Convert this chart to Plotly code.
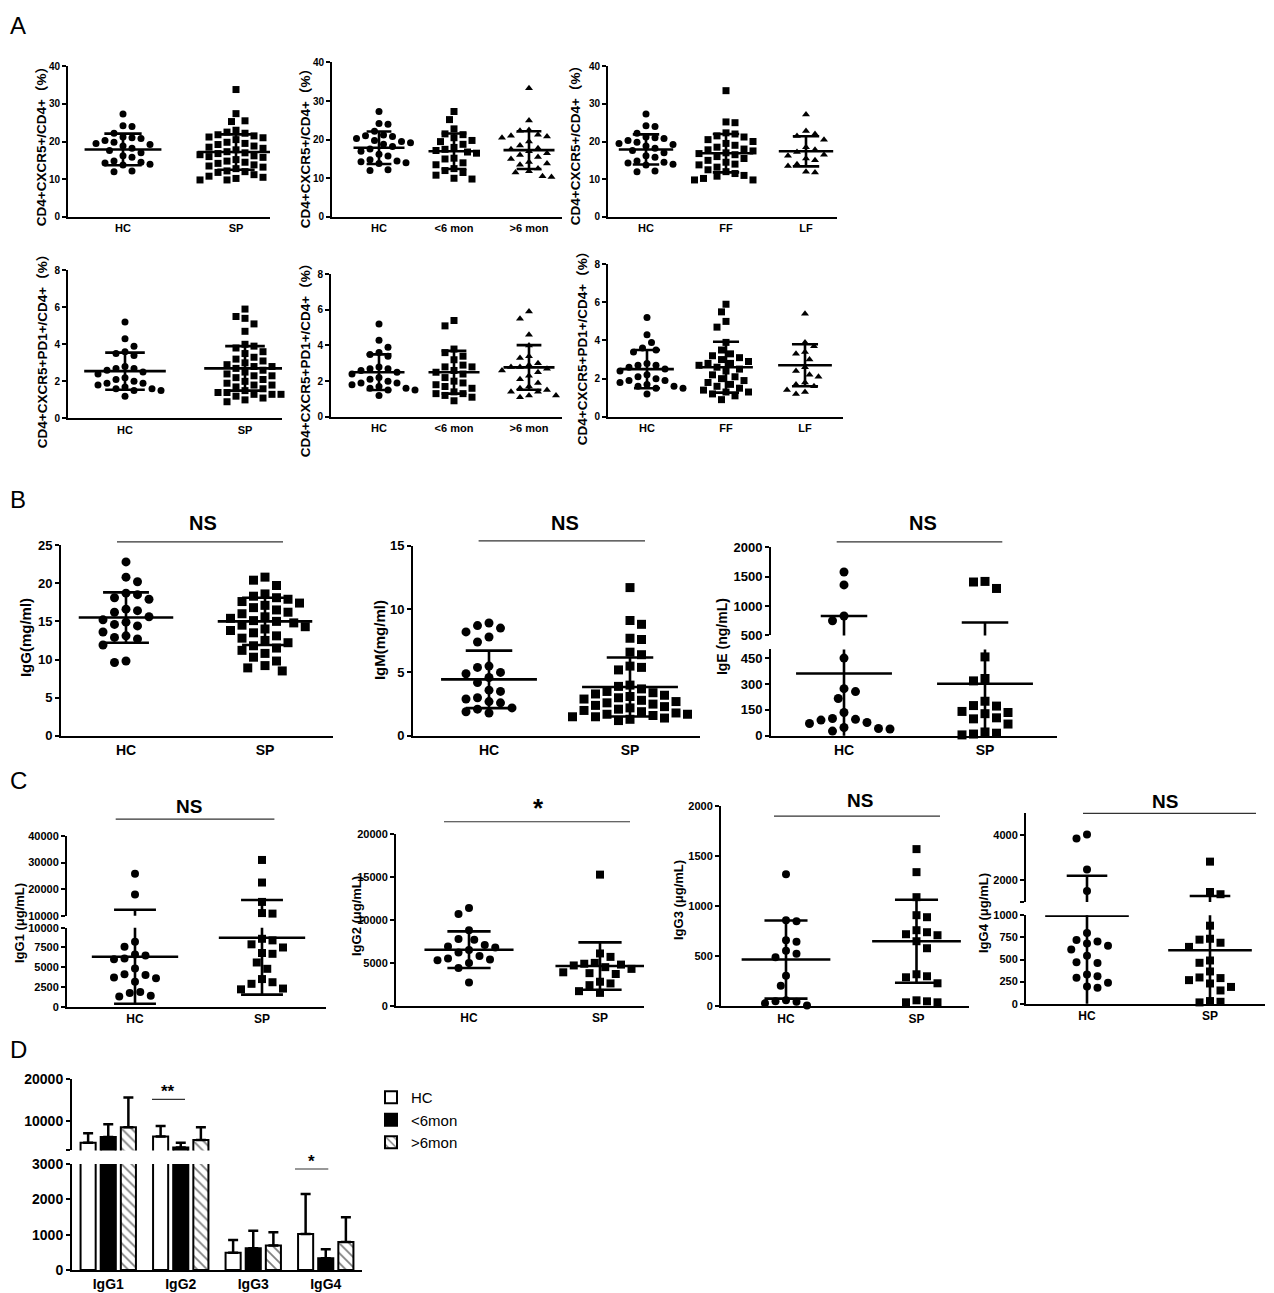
import numpy as np
import plotly.graph_objects as go

# figure size and the measured page->picture mapping (8px body margin, slight vertical squeeze)
W, H = 1258, 1293
OFF_X, OFF_Y, SQ_Y = 8, 16, 0.9878
SANS = "Liberation Sans, Arial, Helvetica, sans-serif"
NARROW = "Liberation Sans Narrow, Liberation Sans, Arial, sans-serif"
CJK = "Liberation Sans, Noto Sans CJK SC, sans-serif"

# ---------------- DATA ----------------
cats_sp = ["HC", "SP"]
cats_mon = ["HC", "<6 mon", ">6 mon"]
cats_f = ["HC", "FF", "LF"]

# A: CD4+CXCR5+/CD4+ (%)
cxcr5_hc = [27.3, 24.2, 24.0, 22.2, 21.2, 21.0, 20.8, 20.3, 19.8, 19.5, 19.2, 18.8, 18.2, 17.6, 17.0, 16.2,
            15.8, 14.8, 14.5, 14.3, 14.0, 13.8, 12.2, 12.0]
cxcr5_sp = [33.8, 27.4, 25.5, 25.3, 23.0, 22.5, 22.2, 21.8, 21.5, 21.2, 21.0, 20.5, 20.2, 19.8, 19.5, 19.2,
            18.8, 18.5, 18.2, 17.8, 17.5, 17.3, 17.0, 16.8, 16.5, 16.2, 16.0, 15.8, 15.5, 15.2, 14.8, 14.5,
            14.2, 13.8, 13.5, 13.2, 12.8, 12.2, 12.0, 11.8, 11.2, 10.8, 10.5, 10.2, 9.8, 9.8]
cxcr5_lt6 = [27.3, 25.2, 22.8, 21.5, 21.3, 20.5, 19.8, 19.5, 18.8, 18.0, 17.5, 17.2, 16.8, 16.5, 15.2, 15.0,
             14.0, 13.5, 12.5, 12.0, 11.5, 10.8, 10.0, 9.8]
cxcr5_gt6 = [33.3, 25.0, 22.5, 22.3, 21.3, 21.0, 20.8, 20.5, 19.5, 18.5, 17.8, 17.5, 17.0, 16.5, 16.0, 15.5,
             15.0, 14.2, 13.8, 13.5, 12.5, 11.8, 11.5, 10.5, 10.3]
cxcr5_ff = [33.5, 25.2, 25.0, 22.3, 22.0, 21.5, 21.2, 20.5, 20.0, 19.5, 19.0, 18.5, 18.0, 17.8, 17.5, 17.0,
            16.8, 16.5, 16.0, 15.5, 15.0, 14.5, 14.0, 13.8, 13.2, 12.5, 12.0, 11.5, 11.0, 10.8, 10.2, 9.8, 9.8]
cxcr5_lf = [27.2, 22.8, 22.0, 21.5, 20.5, 18.5, 17.8, 17.2, 16.5, 16.2, 15.5, 15.0, 14.0, 13.5, 12.0, 11.8]
cxcr5_mean_sp = [17.9, 17.2]
cxcr5_sd_sp = [4.2, 4.7]
cxcr5_mean_mon = [17.9, 17.0, 17.3]
cxcr5_sd_mon = [4.2, 4.6, 4.9]
cxcr5_mean_f = [17.9, 16.9, 17.4]
cxcr5_sd_f = [4.0, 5.1, 4.0]

# A: CD4+CXCR5+PD1+/CD4+ (%)
pd1_hc = [5.2, 4.3, 3.9, 3.6, 3.5, 3.4, 2.8, 2.7, 2.7, 2.6, 2.5, 2.4, 2.2, 2.1, 2.0, 1.9, 1.9, 1.8, 1.7,
          1.6, 1.6, 1.5, 1.5, 1.2]
pd1_sp = [5.9, 5.5, 5.4, 5.1, 4.7, 4.0, 3.9, 3.8, 3.6, 3.5, 3.3, 3.2, 3.1, 3.0, 2.9, 2.8, 2.8, 2.7, 2.6,
          2.5, 2.4, 2.3, 2.3, 2.2, 2.1, 2.0, 1.9, 1.8, 1.8, 1.7, 1.6, 1.5, 1.4, 1.4, 1.3, 1.3, 1.3, 1.2,
          1.1, 1.0, 0.9]
pd1_lt6 = [5.4, 5.1, 3.8, 3.6, 3.4, 3.2, 2.9, 2.8, 2.8, 2.6, 2.5, 2.4, 2.2, 2.0, 1.9, 1.8, 1.7, 1.6, 1.4,
           1.3, 1.3, 1.2, 1.1, 0.9]
pd1_gt6 = [5.9, 5.5, 4.6, 4.0, 3.4, 3.3, 3.0, 2.9, 2.8, 2.8, 2.7, 2.6, 2.5, 2.3, 2.1, 1.9, 1.7, 1.6, 1.5,
           1.4, 1.4, 1.2, 1.2, 1.1]
pd1_ff = [5.9, 5.5, 5.0, 4.7, 3.9, 3.5, 3.3, 3.2, 3.1, 3.0, 2.9, 2.8, 2.8, 2.7, 2.6, 2.5, 2.4, 2.2, 2.1,
          2.0, 1.9, 1.8, 1.7, 1.6, 1.5, 1.4, 1.3, 1.3, 1.2, 1.1, 0.9]
pd1_lf = [5.4, 3.9, 3.7, 3.4, 3.3, 3.0, 2.6, 2.4, 2.2, 2.1, 1.8, 1.7, 1.6, 1.4, 1.3, 1.2]
pd1_mean_sp = [2.55, 2.7]
pd1_sd_sp = [1.0, 1.2]
pd1_mean_mon = [2.5, 2.5, 2.77]
pd1_sd_mon = [1.0, 1.2, 1.25]
pd1_mean_f = [2.5, 2.6, 2.7]
pd1_sd_f = [1.0, 1.33, 1.1]

# B
igg_hc = [22.8, 20.8, 20.2, 18.7, 18.5, 18.1, 17.9, 16.6, 16.4, 16.2, 15.6, 15.2, 14.9, 14.6, 14.4, 13.6,
          13.1, 12.9, 12.7, 11.9, 9.8, 9.6]
igg_sp = [20.8, 20.4, 19.7, 18.6, 18.3, 18.1, 17.9, 17.6, 17.4, 17.1, 16.8, 16.5, 16.2, 16.0, 15.6, 15.4,
          15.1, 15.0, 14.8, 14.5, 14.3, 14.0, 13.8, 13.5, 13.1, 12.8, 12.5, 12.2, 11.8, 11.5, 11.2, 10.8,
          10.3, 9.8, 9.2, 8.9, 8.5]
igg_mean = [15.5, 15.0]
igg_sd = [3.3, 3.1]

igm_hc = [8.9, 8.7, 8.5, 8.2, 7.8, 7.4, 5.5, 5.4, 5.0, 4.9, 4.6, 4.2, 3.6, 3.5, 3.0, 2.9, 2.7, 2.6, 2.2,
          2.1, 1.9, 1.8]
igm_sp = [11.7, 9.1, 8.8, 7.7, 7.6, 6.6, 6.4, 5.5, 5.4, 5.2, 4.0, 3.9, 3.7, 3.5, 3.4, 3.3, 3.2, 3.1, 3.0,
          2.9, 2.8, 2.7, 2.6, 2.5, 2.4, 2.3, 2.2, 2.1, 2.0, 1.9, 1.8, 1.7, 1.7, 1.6, 1.5, 1.5, 1.4, 1.3, 1.2]
igm_mean = [4.45, 3.85]
igm_sd = [2.27, 2.33]

ige_hc = [1580, 1360, 830, 750, 450, 273, 256, 216, 135, 100, 95, 91, 77, 71, 48, 42, 39, 27]
ige_sp = [1420, 1410, 1300, 457, 332, 318, 200, 175, 172, 141, 135, 128, 104, 98, 68, 22, 15, 10, 5]
ige_mean = [361, 301]
ige_sd = [470, 419]

# C
igg1_hc = [25800, 18000, 8230, 7600, 6620, 6500, 6100, 6000, 4850, 4100, 4000, 3700, 3600, 3150, 1850,
           1750, 1400, 1300]
igg1_sp = [31000, 22500, 15200, 11000, 10800, 8600, 8400, 7900, 7500, 6800, 6700, 5600, 4800, 3500, 3100,
           2900, 2300, 2200]
igg1_mean = [6330, 8730]
igg1_sd = [5950, 7200]

igg2_hc = [11400, 10700, 8800, 7800, 7700, 7100, 6900, 6800, 6500, 6200, 5800, 5500, 5400, 5300, 5000,
           4400, 2700]
igg2_sp = [15300, 6100, 5700, 5000, 4900, 4800, 4700, 4500, 4300, 3900, 3800, 3700, 2800, 2600, 2400,
           1700, 1500]
igg2_mean = [6540, 4630]
igg2_sd = [2140, 2760]

igg3_hc = [1320, 860, 850, 660, 645, 555, 525, 490, 305, 205, 60, 50, 45, 30, 8]
igg3_sp = [1570, 1340, 1090, 910, 890, 760, 740, 720, 710, 650, 580, 320, 300, 290, 230, 60, 50, 40, 40]
igg3_mean = [467, 650]
igg3_sd = [390, 415]

igg4_hc = [4030, 3850, 2460, 1490, 800, 720, 705, 680, 655, 613, 543, 470, 460, 331, 310, 295, 237, 195, 180]
igg4_sp = [2810, 1450, 1350, 883, 735, 725, 690, 643, 489, 463, 365, 297, 290, 267, 229, 190, 150, 30, 22, 15]
igg4_mean = [996, 605]
igg4_sd = [1180, 665]

# D
subclasses = ["IgG1", "IgG2", "IgG3", "IgG4"]
d_names = ["HC", "<6mon", ">6mon"]
d_hc = [4800, 6300, 490, 1020]
d_hc_err = [2300, 2500, 360, 1130]
d_lt6 = [6200, 3700, 615, 330]
d_lt6_err = [3000, 1100, 495, 255]
d_gt6 = [8500, 5500, 690, 790]
d_gt6_err = [7100, 3000, 375, 700]

# ---------------- HELPERS ----------------
fig = go.Figure()
layout = {}
counts = {"x": 0, "y": 0}
annotations = []
shapes = []


def next_axis(kind):
    counts[kind] += 1
    n = counts[kind]
    return (f"{kind}axis" if n == 1 else f"{kind}axis{n}", kind if n == 1 else f"{kind}{n}")


def X(p):
    return min(max((p - OFF_X) / W, 0.0), 1.0)


def Y(p):
    return min(max(1 - (p / SQ_Y - OFF_Y) / H, 0.0), 1.0)


def bold(size, family=SANS):
    return dict(family=family, size=size, color="black", weight="bold")


def seg_of(v, segs):
    for k, s in enumerate(segs):
        if s["range"][0] <= v <= s["range"][1]:
            return k
    return len(segs) - 1 if v > segs[-1]["range"][1] else 0


def to_pix(v, segs):
    s = segs[seg_of(v, segs)]
    lo, hi = s["range"]
    return s["bot"] - (v - lo) / (hi - lo) * (s["bot"] - s["top"])


def swarm(ypix, d):
    ypix = np.asarray(ypix, float)
    order = np.argsort(ypix, kind="stable")
    placed = []
    out = np.zeros(len(ypix))
    step = d * 0.5
    for k, i in enumerate(order):
        y = ypix[i]
        sign = 1 if k % 2 == 0 else -1
        cands = [0.0]
        for j in range(1, 80):
            cands += [sign * j * step, -sign * j * step]
        chosen = 0.0
        for c in cands:
            if all((c - px) ** 2 + (y - py) ** 2 >= (d * 0.98) ** 2 for px, py in placed):
                chosen = c
                break
        placed.append((chosen, y))
        out[i] = chosen
    return out


def yaxis_dict(s, xref, lw, tfont):
    return dict(domain=[Y(s["bot"]), Y(s["top"])], range=s["range"], anchor=xref, showline=True,
                linecolor="black", linewidth=lw, ticks="outside", ticklen=4, tickwidth=lw,
                tickcolor="black", tickvals=s["ticks"],
                ticktext=s.get("labels", [str(t) for t in s["ticks"]]), tickfont=tfont,
                showgrid=False, zeroline=False, fixedrange=True)


def scatter_panel(xl, xr, cat_px, cats, segs, groups, symbols, means, sds, msize, tfont, cfont,
                  lw=2, mean_hw=0.34, cap_hw=0.165, gap=2.5):
    unit = cat_px[1] - cat_px[0]
    xname, xref = next_axis("x")
    yrefs = []
    for s in segs:
        yname, yref = next_axis("y")
        yrefs.append(yref)
        layout[yname] = yaxis_dict(s, xref, lw, tfont)
    layout[xname] = dict(domain=[X(xl), X(xr)], range=[(xl - cat_px[0]) / unit, (xr - cat_px[0]) / unit],
                         anchor=yrefs[0], showline=True, linecolor="black", linewidth=lw, ticks="",
                         tickvals=list(range(len(cats))), ticktext=cats, tickfont=cfont,
                         showgrid=False, zeroline=False, fixedrange=True)
    for gi, (vals, sym) in enumerate(zip(groups, symbols)):
        ypix = [to_pix(v, segs) for v in vals]
        offs = swarm(ypix, msize + gap) / unit
        segidx = [seg_of(v, segs) for v in vals]
        for k, yref in enumerate(yrefs):
            xs = [gi + o for o, s_ in zip(offs, segidx) if s_ == k]
            ys = [v for v, s_ in zip(vals, segidx) if s_ == k]
            if xs:
                fig.add_trace(go.Scatter(x=xs, y=ys, xaxis=xref, yaxis=yref, mode="markers",
                                         marker=dict(symbol=sym, size=msize, color="black"),
                                         cliponaxis=False, showlegend=False, hoverinfo="skip"))
    for k, yref in enumerate(yrefs):
        lx, ly = [], []
        for gi, (m, s) in enumerate(zip(means, sds)):
            lx += [gi, gi, None]
            ly += [m - s, m + s, None]
            for val, hw in ((m, mean_hw), (m + s, cap_hw), (m - s, cap_hw)):
                if val >= 0 and seg_of(val, segs) == k:
                    lx += [gi - hw, gi + hw, None]
                    ly += [val, val, None]
        fig.add_trace(go.Scatter(x=lx, y=ly, xaxis=xref, yaxis=yref, mode="lines",
                                 line=dict(color="black", width=lw + 0.6), showlegend=False,
                                 hoverinfo="skip", cliponaxis=True))


def ytitle(text, x, yc, size, family=SANS):
    annotations.append(dict(text=text, x=X(x), y=Y(yc), xref="paper", yref="paper", textangle=-90,
                            showarrow=False, xanchor="center", yanchor="middle", font=bold(size, family)))


def sig(text, tx, ty, x0, x1, ly, size):
    annotations.append(dict(text=text, x=X(tx), y=Y(ty), xref="paper", yref="paper", showarrow=False,
                            xanchor="center", yanchor="middle", font=bold(size)))
    shapes.append(dict(type="line", xref="paper", yref="paper", x0=X(x0), x1=X(x1), y0=Y(ly), y1=Y(ly),
                       line=dict(color="#333333", width=1.2)))


def letter(text, x, y, yshift=0):
    annotations.append(dict(text=text, x=X(x), y=Y(y), xref="paper", yref="paper", showarrow=False,
                            xanchor="left", yanchor="top", yshift=yshift,
                            font=dict(family=SANS, size=24, color="black")))


# ---------------- PANEL A ----------------
tA = bold(10, NARROW)
cA = bold(11, NARROW)
segA1 = lambda top, bot: [dict(range=[0, 40], top=top, bot=bot, ticks=[0, 10, 20, 30, 40])]
segA2 = lambda top, bot: [dict(range=[0, 8], top=top, bot=bot, ticks=[0, 2, 4, 6, 8])]

scatter_panel(68, 270, (123, 236), cats_sp, segA1(66, 216.7), [cxcr5_hc, cxcr5_sp],
              ["circle", "square"], cxcr5_mean_sp, cxcr5_sd_sp, 7, tA, cA, gap=2)
scatter_panel(332, 562, (379, 454), cats_mon, segA1(62.3, 216.7), [cxcr5_hc, cxcr5_lt6, cxcr5_gt6],
              ["circle", "square", "triangle-up"], cxcr5_mean_mon, cxcr5_sd_mon, 7, tA, cA, gap=2)
scatter_panel(608, 837, (646, 726), cats_f, segA1(66, 216.7), [cxcr5_hc, cxcr5_ff, cxcr5_lf],
              ["circle", "square", "triangle-up"], cxcr5_mean_f, cxcr5_sd_f, 7, tA, cA, gap=2)
scatter_panel(68, 282, (125, 245), cats_sp, segA2(270, 418.3), [pd1_hc, pd1_sp],
              ["circle", "square"], pd1_mean_sp, pd1_sd_sp, 7, tA, cA, gap=2)
scatter_panel(331, 562, (379, 454), cats_mon, segA2(274, 416.7), [pd1_hc, pd1_lt6, pd1_gt6],
              ["circle", "square", "triangle-up"], pd1_mean_mon, pd1_sd_mon, 7, tA, cA, gap=2)
scatter_panel(608, 843, (647, 726), cats_f, segA2(264, 416.7), [pd1_hc, pd1_ff, pd1_lf],
              ["circle", "square", "triangle-up"], pd1_mean_f, pd1_sd_f, 7, tA, cA, gap=2)

tA1 = "CD4+CXCR5+/CD4+（%）"
tA2 = "CD4+CXCR5+PD1+/CD4+（%）"
ytitle(tA1, 41, 143, 13.5, CJK)
ytitle(tA1, 305, 145, 13.5, CJK)
ytitle(tA1, 575, 142, 13.5, CJK)
ytitle(tA2, 42, 348, 13.5, CJK)
ytitle(tA2, 305, 357, 13.5, CJK)
ytitle(tA2, 582, 345, 13.5, CJK)

# ---------------- PANEL B ----------------
tB = bold(13)
cB = bold(14)
scatter_panel(61, 333, (126, 265), cats_sp,
              [dict(range=[0, 25], top=545, bot=735.7, ticks=[0, 5, 10, 15, 20, 25])],
              [igg_hc, igg_sp], ["circle", "square"], igg_mean, igg_sd, 9, tB, cB)
scatter_panel(413, 700, (489, 630), cats_sp,
              [dict(range=[0, 15], top=545.7, bot=735.7, ticks=[0, 5, 10, 15])],
              [igm_hc, igm_sp], ["circle", "square"], igm_mean, igm_sd, 9, tB, cB)
scatter_panel(771, 1057, (844, 985), cats_sp,
              [dict(range=[0, 500], top=649.4, bot=735.7, ticks=[0, 150, 300, 450]),
               dict(range=[500, 2000], top=547.3, bot=635.3, ticks=[500, 1000, 1500, 2000])],
              [ige_hc, ige_sp], ["circle", "square"], ige_mean, ige_sd, 9, tB, cB)
ytitle("IgG(mg/ml)", 25, 638, 15)
ytitle("IgM(mg/ml)", 379, 640, 15)
ytitle("IgE (ng/mL)", 722, 637, 14)
sig("NS", 203, 523, 117, 283, 541.7, 20)
sig("NS", 565, 523, 478.6, 645, 540.7, 20)
sig("NS", 922.7, 523, 836.7, 1002.3, 541.7, 20)

# ---------------- PANEL C ----------------
tC = bold(11)
cC = bold(12)
scatter_panel(67, 326, (135, 262), cats_sp,
              [dict(range=[0, 10000], top=927.7, bot=1006.7, ticks=[0, 2500, 5000, 7500, 10000]),
               dict(range=[10000, 40000], top=836, bot=915.7, ticks=[10000, 20000, 30000, 40000])],
              [igg1_hc, igg1_sp], ["circle", "square"], igg1_mean, igg1_sd, 8, tC, cC)
scatter_panel(396, 644, (469, 600), cats_sp,
              [dict(range=[0, 20000], top=834.3, bot=1005.7, ticks=[0, 5000, 10000, 15000, 20000])],
              [igg2_hc, igg2_sp], ["circle", "square"], igg2_mean, igg2_sd, 8, tC, cC)
scatter_panel(721, 969, (786, 916.5), cats_sp,
              [dict(range=[0, 2000], top=806, bot=1006.3, ticks=[0, 500, 1000, 1500, 2000])],
              [igg3_hc, igg3_sp], ["circle", "square"], igg3_mean, igg3_sd, 8, tC, cC)
scatter_panel(1026, 1265, (1087, 1210), cats_sp,
              [dict(range=[0, 1000], top=915.3, bot=1003.7, ticks=[0, 250, 500, 750, 1000]),
               dict(range=[1000, 5000], top=812.7, bot=902, ticks=[1000, 2000, 4000],
                    labels=["", "2000", "4000"])],
              [igg4_hc, igg4_sp], ["circle", "square"], igg4_mean, igg4_sd, 8, tC, cC)
ytitle("IgG1 (μg/mL)", 19, 923, 13)
ytitle("IgG2 (μg/mL)", 356, 916, 13)
ytitle("IgG3 (μg/mL)", 678, 900, 13)
ytitle("IgG4 (μg/mL)", 983, 913, 13)
sig("NS", 189.4, 806, 115.7, 274.4, 819, 19)
sig("*", 538.7, 808, 444, 630, 821.7, 26)
sig("NS", 859.7, 800, 774, 940, 816, 19)
sig("NS", 1165, 801.7, 1083, 1256, 813.3, 19)

# ---------------- PANEL D ----------------
tD = bold(14)
xname, xref = next_axis("x")
segsD = [dict(range=[0, 3000], top=1164, bot=1270, ticks=[0, 1000, 2000, 3000]),
         dict(range=[3000, 20000], top=1079, bot=1150.4, ticks=[3000, 10000, 20000],
              labels=["", "10000", "20000"])]
yrefsD = []
for s in segsD:
    yname, yref = next_axis("y")
    yrefsD.append(yref)
    layout[yname] = yaxis_dict(s, xref, 2, tD)
layout[xname] = dict(domain=[X(72), X(362)], range=[-0.5, 3.5], anchor=yrefsD[0], showline=True,
                     linecolor="black", linewidth=2, ticks="", tickvals=list(range(4)),
                     ticktext=subclasses, tickfont=tD, showgrid=False, zeroline=False, fixedrange=True)
bar_specs = [
    (d_names[0], d_hc, d_hc_err, dict(color="white", line=dict(color="black", width=2))),
    (d_names[1], d_lt6, d_lt6_err, dict(color="black", line=dict(color="black", width=2))),
    (d_names[2], d_gt6, d_gt6_err, dict(color="white", line=dict(color="black", width=2),
                                        pattern=dict(shape="\\", fgcolor="black", bgcolor="white",
                                                     size=7, solidity=0.25))),
]
for k, yref in enumerate(yrefsD):
    for name, vals, err, mk in bar_specs:
        fig.add_trace(go.Bar(x=list(range(4)), y=vals, name=name, xaxis=xref, yaxis=yref, marker=mk,
                             error_y=dict(type="data", symmetric=False, array=err,
                                          arrayminus=[0] * len(err), color="black", thickness=2.5,
                                          width=5),
                             showlegend=(k == 0), hoverinfo="skip"))
sig("**", 168, 1091, 152, 185, 1099.3, 17)
sig("*", 311.7, 1162, 295, 328.3, 1169, 17)

letter("A", 8, 16, yshift=6)
letter("B", 8, 484)
letter("C", 8, 765)
letter("D", 8, 1034)

fig.update_layout(
    width=W, height=H, margin=dict(l=0, r=0, t=0, b=0), autosize=False,
    paper_bgcolor="white", plot_bgcolor="white",
    barmode="group", bargap=0.167, bargroupgap=0.25,
    showlegend=True,
    legend=dict(x=X(371), y=Y(1081), xanchor="left", yanchor="top", bgcolor="rgba(0,0,0,0)",
                font=dict(family=SANS, size=15, color="black"), tracegroupgap=0, itemwidth=30),
    annotations=annotations, shapes=shapes, hovermode=False,
    **layout,
)
fig.write_html("out.html")
